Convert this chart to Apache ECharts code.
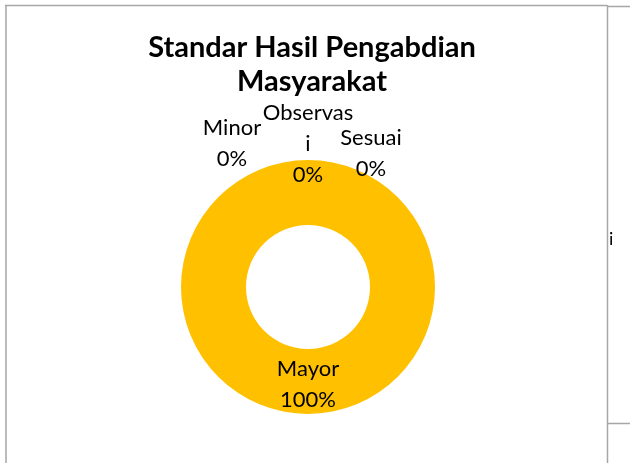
<!DOCTYPE html>
<html>
<head>
<meta charset="utf-8">
<script src="https://cdn.jsdelivr.net/npm/echarts@6/dist/echarts.min.js"></script>
<style>
  html, body { margin: 0; padding: 0; background: #fff; }
  #chart { width: 630px; height: 463px; }
</style>
</head>
<body>
<div id="chart"></div>
<script>
// Audit findings for the community-service output standard
const categories = ['Mayor', 'Minor', 'Observasi', 'Sesuai'];
const counts = [100, 0, 0, 0];
const titleLines = ['Standar Hasil Pengabdian', 'Masyarakat'];

const FONT = 'Lato, "Open Sans", sans-serif';
const ringColor = '#FFC000';

// Where the zero-value labels sit around the top of the ring
const labelSpots = {
  Minor: [232, 143],
  Observasi: [308, 144],
  Sesuai: [371, 153]
};

const chart = echarts.init(document.getElementById('chart'), null, { renderer: 'canvas' });

const gridLine = { stroke: '#a6a6a6', lineWidth: 1.5 };

chart.setOption({
  animation: false,
  title: {
    text: titleLines.join('\n'),
    left: 307,
    top: 26,
    padding: 5,
    textAlign: 'center',
    textStyle: {
      fontFamily: FONT,
      fontWeight: 'bold',
      fontSize: 29,
      lineHeight: 34,
      color: '#000'
    }
  },
  graphic: [
    { type: 'line', shape: { x1: 5, y1: 5.5, x2: 607, y2: 5.5 }, style: gridLine },
    { type: 'line', shape: { x1: 607, y1: 6.5, x2: 630, y2: 6.5 }, style: gridLine },
    { type: 'line', shape: { x1: 6, y1: 5, x2: 6, y2: 463 }, style: gridLine },
    { type: 'line', shape: { x1: 607.5, y1: 5, x2: 607.5, y2: 463 }, style: gridLine },
    { type: 'line', shape: { x1: 607, y1: 423.5, x2: 630, y2: 423.5 }, style: gridLine },
    { type: 'text', left: 609, top: 230, style: { text: 'i', font: '18px ' + FONT, fill: '#000' } }
  ],
  series: [{
    type: 'pie',
    center: [308, 287],
    radius: [62, 127],
    startAngle: 90,
    clockwise: true,
    stillShowZeroSum: true,
    minShowLabelAngle: 0,
    silent: true,
    itemStyle: { color: ringColor },
    label: {
      show: true,
      position: 'inside',
      fontFamily: FONT,
      fontSize: 22,
      lineHeight: 31,
      color: '#000',
      align: 'center',
      formatter: function (p) {
        // long names wrap the way the cell text does
        let name = p.name;
        if (name.length > 8) name = name.slice(0, 8) + '\n' + name.slice(8);
        return name + '\n' + Math.round(p.percent) + '%';
      }
    },
    labelLine: { show: false },
    labelLayout: function (params) {
      const name = categories[params.dataIndex];
      const spot = labelSpots[name];
      if (!spot) return {};
      return { x: spot[0], y: spot[1], align: 'center', verticalAlign: 'middle' };
    },
    data: categories.map((c, i) => ({ name: c, value: counts[i] }))
  }]
});
</script>
</body>
</html>
